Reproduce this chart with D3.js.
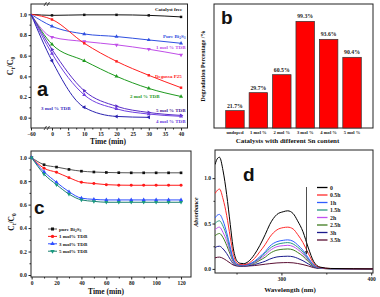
<!DOCTYPE html>
<html>
<head>
<meta charset="utf-8">
<script src="https://cdn.jsdelivr.net/npm/d3@7"></script>
<style>
  body { margin: 0; background: #fff; }
  text { font-family: "Liberation Serif", serif; font-weight: bold; }
</style>
</head>
<body>
<svg id="fig" width="380" height="297"></svg>
<script>
// ---- panel a : Ct/C0 vs time ----
var aTime = [-60, 0, 10, 20, 30, 40];
var aFree = [1.0, 0.99, 0.995, 0.995, 0.99, 0.975];
var aPure = [1.0, 0.885, 0.81, 0.785, 0.752, 0.72];
var aMol1 = [1.0, 0.78, 0.737, 0.705, 0.662, 0.608];
var aP25  = [1.0, 0.95, 0.72, 0.545, 0.41, 0.29];
var aMol2 = [1.0, 0.71, 0.55, 0.40, 0.283, 0.205];
var aMol5 = [1.0, 0.66, 0.26, 0.11, 0.05, 0.022];
var aMol4 = [1.0, 0.62, 0.22, 0.085, 0.035, 0.013];
var aMol3 = [1.0, 0.55, 0.10, 0.012, 0.003];

// ---- panel b : degradation percentage ----
var bCats = ["undoped", "1 mol %", "2 mol %", "3 mol %", "4 mol %", "5 mol %"];
var bLabels = ["21.7%", "29.7%", "60.5%", "99.3%", "93.6%", "90.4%"];
var bHeights = [0.14, 0.285, 0.43, 0.86, 0.715, 0.57]; // bar height as read, fraction of frame

// ---- panel c : adsorption in dark ----
var cTime = [0, 10, 20, 30, 40, 50, 60, 70, 80, 90, 100, 110, 120];
var cPure = [1.0, 0.94, 0.92, 0.90, 0.885, 0.878, 0.874, 0.872, 0.871, 0.871, 0.871, 0.871, 0.871];
var cMol1 = [1.0, 0.91, 0.875, 0.83, 0.79, 0.78, 0.77, 0.766, 0.765, 0.765, 0.765, 0.765, 0.765];
var cMol3 = [1.0, 0.88, 0.79, 0.71, 0.655, 0.645, 0.64, 0.64, 0.64, 0.64, 0.64, 0.64, 0.64];
var cMol5 = [1.0, 0.86, 0.77, 0.69, 0.64, 0.628, 0.62, 0.62, 0.62, 0.62, 0.62, 0.62, 0.62];

// ---- panel d : absorption spectra ----
var dWave = [226, 229, 231, 235, 239, 243, 246, 250, 254, 258, 263, 270, 276, 282, 287, 295, 302, 307, 313, 318, 324, 330, 336, 343, 355, 380, 402];
var dNames = ["0", "0.5h", "1h", "1.5h", "2h", "2.5h", "3h", "3.5h"];
var dAbs = [
  [1.15, 1.22, 1.23, 1.08, 0.82, 0.49, 0.25, 0.095, 0.062, 0.058, 0.08, 0.16, 0.26, 0.38, 0.49, 0.60, 0.63, 0.64, 0.61, 0.53, 0.41, 0.23, 0.08, 0.02, 0.005, 0.002, 0.0],
  [0.83, 0.87, 0.88, 0.77, 0.59, 0.35, 0.18, 0.07, 0.048, 0.045, 0.06, 0.115, 0.19, 0.27, 0.35, 0.43, 0.455, 0.46, 0.44, 0.38, 0.29, 0.17, 0.06, 0.015, 0.004, 0.001, 0.0],
  [0.56, 0.595, 0.60, 0.53, 0.40, 0.24, 0.12, 0.055, 0.042, 0.04, 0.05, 0.085, 0.135, 0.19, 0.25, 0.30, 0.315, 0.32, 0.305, 0.265, 0.205, 0.12, 0.045, 0.012, 0.003, 0.001, 0.0],
  [0.50, 0.525, 0.53, 0.47, 0.36, 0.21, 0.11, 0.05, 0.04, 0.038, 0.048, 0.078, 0.12, 0.175, 0.225, 0.27, 0.285, 0.29, 0.275, 0.24, 0.185, 0.105, 0.04, 0.01, 0.003, 0.001, 0.0],
  [0.43, 0.455, 0.46, 0.40, 0.31, 0.185, 0.095, 0.045, 0.038, 0.036, 0.045, 0.07, 0.11, 0.155, 0.20, 0.245, 0.256, 0.26, 0.247, 0.215, 0.165, 0.095, 0.035, 0.01, 0.003, 0.001, 0.0],
  [0.365, 0.385, 0.39, 0.345, 0.26, 0.16, 0.085, 0.042, 0.036, 0.035, 0.042, 0.062, 0.095, 0.13, 0.17, 0.207, 0.217, 0.22, 0.21, 0.182, 0.14, 0.08, 0.03, 0.008, 0.002, 0.001, 0.0],
  [0.235, 0.248, 0.25, 0.22, 0.17, 0.105, 0.06, 0.036, 0.032, 0.031, 0.035, 0.048, 0.065, 0.085, 0.108, 0.132, 0.138, 0.14, 0.134, 0.117, 0.09, 0.055, 0.022, 0.007, 0.002, 0.001, 0.0],
  [0.122, 0.129, 0.13, 0.116, 0.092, 0.064, 0.045, 0.033, 0.03, 0.03, 0.032, 0.037, 0.044, 0.052, 0.058, 0.066, 0.069, 0.07, 0.067, 0.06, 0.048, 0.032, 0.014, 0.005, 0.002, 0.001, 0.0]
];
var dColors = ["#000000", "#ff2a2a", "#2f5cff", "#2a9a80", "#c050f0", "#3f7a1e", "#1a1a8c", "#5a0f33"];

var svg = d3.select("#fig");

function frame(x0, y0, x1, y1) {
  svg.append("rect").attr("x", x0).attr("y", y0).attr("width", x1 - x0).attr("height", y1 - y0)
    .attr("fill", "none").attr("stroke", "#222").attr("stroke-width", 1);
}
function styleAxis(g, fs) {
  g.select(".domain").remove();
  g.selectAll("line").attr("stroke", "#222");
  g.selectAll("text").attr("font-size", fs).attr("fill", "#222")
    .style("font-family", "'Liberation Serif', serif").style("font-weight", "bold");
}
function marker(g, type, rot, size, color, pts) {
  g.selectAll(null).data(pts).enter().append("path")
    .attr("d", d3.symbol().type(type).size(size))
    .attr("transform", d => "translate(" + d[0] + "," + d[1] + ") rotate(" + rot + ")")
    .attr("fill", color);
}
function label(x, y, txt, fs, color, anchor) {
  return svg.append("text").attr("x", x).attr("y", y).attr("font-size", fs)
    .attr("fill", color || "#222").attr("text-anchor", anchor || "start").text(txt);
}

// ================= panel a =================
var xa = d3.scaleLinear().domain([-60, 0, 42]).range([31, 52, 187.5]);
var ya = d3.scaleLinear().domain([-0.1, 1.1]).range([128, 4]);
frame(31, 4, 187.5, 128);
svg.append("g").attr("transform", "translate(0,128)")
  .call(d3.axisBottom(xa).tickValues([-60, 0, 5, 10, 15, 20, 25, 30, 35, 40]).tickSize(2.5).tickPadding(1.5))
  .call(g => styleAxis(g, 5.5));
svg.append("g").attr("transform", "translate(0,128)")
  .call(d3.axisBottom(xa).tickValues([2.5, 7.5, 12.5, 17.5, 22.5, 27.5, 32.5, 37.5]).tickSize(1.5).tickFormat(""))
  .call(g => styleAxis(g, 5));
svg.append("g").attr("transform", "translate(31,0)")
  .call(d3.axisLeft(ya).tickValues([0, 0.2, 0.4, 0.6, 0.8, 1.0]).tickSize(2.5).tickPadding(1.5).tickFormat(d3.format(".1f")))
  .call(g => styleAxis(g, 5.8));
svg.append("g").attr("transform", "translate(31,0)")
  .call(d3.axisLeft(ya).tickValues([0.1, 0.3, 0.5, 0.7, 0.9]).tickSize(1.5).tickFormat(""))
  .call(g => styleAxis(g, 5));
// axis break marks
[4, 128].forEach(function (yy) {
  [44, 47].forEach(function (xx) {
    svg.append("line").attr("x1", xx).attr("y1", yy + 2).attr("x2", xx + 2.5).attr("y2", yy - 2)
      .attr("stroke", "#222").attr("stroke-width", 0.8);
  });
});
var aSeries = [
  { v: aFree, c: "#111111", sym: d3.symbolSquare, r: 0, s: 6 },
  { v: aPure, c: "#2f4fe0", sym: d3.symbolTriangle, r: 0, s: 7 },
  { v: aMol1, c: "#c04ee8", sym: d3.symbolTriangle, r: 180, s: 7 },
  { v: aP25, c: "#ff2020", sym: d3.symbolSquare, r: 0, s: 6 },
  { v: aMol2, c: "#1f9a1f", sym: d3.symbolTriangle, r: 0, s: 7 },
  { v: aMol5, c: "#5a2dc8", sym: d3.symbolTriangle, r: 90, s: 7 },
  { v: aMol4, c: "#7040e0", sym: d3.symbolTriangle, r: 0, s: 7 },
  { v: aMol3, c: "#2a22b0", sym: d3.symbolTriangle, r: -90, s: 7 }
];
var lineA = d3.line().curve(d3.curveMonotoneX);
aSeries.forEach(function (s) {
  var pts = s.v.map((d, i) => [xa(aTime[i]), ya(d)]);
  svg.append("path").attr("d", lineA(pts)).attr("fill", "none").attr("stroke", s.c).attr("stroke-width", 1);
  marker(svg, s.sym, s.r, s.s, s.c, pts.slice(1));
});
label(155, 10.5, "Catalyst free", 5, "#111");
var tPure = label(163, 37.5, "Pure Bi", 5, "#2f4fe0");
tPure.append("tspan").attr("font-size", 3.6).attr("dy", 1.3).text("2");
tPure.append("tspan").attr("font-size", 5).attr("dy", -1.3).text("S");
tPure.append("tspan").attr("font-size", 3.6).attr("dy", 1.3).text("3");
label(156, 49, "1 mol % TDB", 5, "#c04ee8");
label(155, 77.5, "Degussa P25", 5, "#ff2020");
label(130, 97.5, "2 mol % TDB", 5, "#1f9a1f");
label(41, 109.5, "3 mol % TDB", 5, "#3a30c0");
label(156, 111.5, "5 mol % TDB", 5, "#4a2090");
label(156, 122.5, "4 mol % TDB", 5, "#6a40e0");
label(37, 96, "a", 20, "#111").style("font-family", "'Liberation Sans', Arial, sans-serif");
var tya = svg.append("text").attr("transform", "translate(13,66) rotate(-90)").attr("text-anchor", "middle")
  .attr("font-size", 8).attr("fill", "#111").text("C");
tya.append("tspan").attr("font-size", 5.5).attr("dy", 2).text("t");
tya.append("tspan").attr("font-size", 8).attr("dy", -2).text("/C");
tya.append("tspan").attr("font-size", 5.5).attr("dy", 2).text("0");
label(108, 144, "Time (min)", 7.5, "#111", "middle");

// ================= panel b =================
var xb = d3.scaleBand().domain(bCats).range([214, 373]).paddingInner(0.21).paddingOuter(0.5);
var yb = d3.scaleLinear().domain([0, 1]).range([128, 4]);
frame(214, 4, 373, 128);
svg.selectAll(".bar").data(bCats).enter().append("rect")
  .attr("x", d => xb(d)).attr("width", xb.bandwidth())
  .attr("y", (d, i) => yb(bHeights[i])).attr("height", (d, i) => yb(0) - yb(bHeights[i]))
  .attr("fill", "#ff0000").attr("stroke", "#333").attr("stroke-width", 0.7);
bCats.forEach(function (c, i) {
  label(xb(c) + xb.bandwidth() / 2, yb(bHeights[i]) - 3, bLabels[i], 5.8, "#222", "middle");
  label(xb(c) + xb.bandwidth() / 2, 133.5, c, 4.6, "#222", "middle");
});
label(287.5, 142.5, "Catalysts with different Sn content", 7, "#111", "middle");
svg.append("text").attr("transform", "translate(205,66) rotate(-90)").attr("text-anchor", "middle")
  .attr("font-size", 6).attr("fill", "#111").text("Degradation Percentage /%");
label(221, 24, "b", 19, "#111").style("font-family", "'Liberation Sans', Arial, sans-serif");

// ================= panel c =================
var xc = d3.scaleLinear().domain([-0.5, 128]).range([31, 191]);
var yc = d3.scaleLinear().domain([-0.017, 1.057]).range([277, 151]);
frame(31, 151, 191, 277);
svg.append("g").attr("transform", "translate(0,277)")
  .call(d3.axisBottom(xc).tickValues([0, 20, 40, 60, 80, 100, 120]).tickSize(2.5).tickPadding(1.5))
  .call(g => styleAxis(g, 5.5));
svg.append("g").attr("transform", "translate(0,277)")
  .call(d3.axisBottom(xc).tickValues([10, 30, 50, 70, 90, 110]).tickSize(1.5).tickFormat(""))
  .call(g => styleAxis(g, 5));
svg.append("g").attr("transform", "translate(31,0)")
  .call(d3.axisLeft(yc).tickValues([0, 0.2, 0.4, 0.6, 0.8, 1.0]).tickSize(2.5).tickPadding(1.5).tickFormat(d3.format(".1f")))
  .call(g => styleAxis(g, 5.8));
svg.append("g").attr("transform", "translate(31,0)")
  .call(d3.axisLeft(yc).tickValues([0.1, 0.3, 0.5, 0.7, 0.9]).tickSize(1.5).tickFormat(""))
  .call(g => styleAxis(g, 5));
var cSeries = [
  { v: cPure, c: "#111111", lc: "#555", sym: d3.symbolSquare, r: 0, name: "pure Bi" },
  { v: cMol1, c: "#ff1a1a", lc: "#ff1a1a", sym: d3.symbolCircle, r: 0, name: "1 mol% TDB" },
  { v: cMol3, c: "#2f4fff", lc: "#2f4fff", sym: d3.symbolTriangle, r: 0, name: "3 mol% TDB" },
  { v: cMol5, c: "#1a9a80", lc: "#1a8070", sym: d3.symbolTriangle, r: 180, name: "5 mol% TDB" }
];
var lineC = d3.line().curve(d3.curveMonotoneX);
cSeries.forEach(function (s, k) {
  var pts = s.v.map((d, i) => [xc(cTime[i]), yc(d)]);
  svg.append("path").attr("d", lineC(pts)).attr("fill", "none").attr("stroke", s.lc).attr("stroke-width", 1);
  marker(svg, s.sym, s.r, 7, s.c, pts);
  var ly = 229 + k * 7.4;
  svg.append("line").attr("x1", 48).attr("x2", 57).attr("y1", ly).attr("y2", ly).attr("stroke", s.lc).attr("stroke-width", 1);
  marker(svg, s.sym, s.r, 9, s.c, [[52.5, ly]]);
  var t = label(59, ly + 2, s.name, 5, "#222");
  if (k === 0) {
    t.append("tspan").attr("font-size", 3.6).attr("dy", 1.2).text("2");
    t.append("tspan").attr("font-size", 5).attr("dy", -1.2).text("S");
    t.append("tspan").attr("font-size", 3.6).attr("dy", 1.2).text("3");
  }
});
label(34, 214, "c", 19, "#111").style("font-family", "'Liberation Sans', Arial, sans-serif");
var tyc = svg.append("text").attr("transform", "translate(14,222) rotate(-90)").attr("text-anchor", "middle")
  .attr("font-size", 7.5).attr("fill", "#111").text("C");
tyc.append("tspan").attr("font-size", 5.2).attr("dy", 2).text("t");
tyc.append("tspan").attr("font-size", 7.5).attr("dy", -2).text("/C");
tyc.append("tspan").attr("font-size", 5.2).attr("dy", 2).text("0");
label(106, 293.5, "Time (min)", 7.5, "#111", "middle");

// ================= panel d =================
var xd = d3.scaleLinear().domain([226, 402]).range([215, 373]);
var yd = d3.scaleLinear().domain([-0.045, 1.31]).range([273, 150]);
frame(215, 150, 373, 273);
svg.append("g").attr("transform", "translate(0,273)")
  .call(d3.axisBottom(xd).tickValues([300, 400]).tickSize(2.5).tickPadding(1.5))
  .call(g => styleAxis(g, 5.5));
svg.append("g").attr("transform", "translate(0,273)")
  .call(d3.axisBottom(xd).tickValues([250, 350]).tickSize(1.5).tickFormat(""))
  .call(g => styleAxis(g, 5));
svg.append("g").attr("transform", "translate(215,0)")
  .call(d3.axisLeft(yd).tickValues([0, 0.5, 1.0]).tickSize(2.5).tickPadding(1.5).tickFormat(d3.format(".1f")))
  .call(g => styleAxis(g, 5.5));
svg.append("g").attr("transform", "translate(215,0)")
  .call(d3.axisLeft(yd).tickValues([0.25, 0.75]).tickSize(1.5).tickFormat(""))
  .call(g => styleAxis(g, 5));
svg.append("clipPath").attr("id", "clipd").append("rect")
  .attr("x", 215).attr("y", 150).attr("width", 158).attr("height", 123);
var lineD = d3.line().x((d, i) => xd(dWave[i])).y(d => yd(d)).curve(d3.curveMonotoneX);
var gd = svg.append("g").attr("clip-path", "url(#clipd)");
dAbs.slice().reverse().forEach(function (arr, j) {
  var k = dAbs.length - 1 - j;
  gd.append("path").attr("d", lineD(arr)).attr("fill", "none").attr("stroke", dColors[k]).attr("stroke-width", 1);
});
dNames.forEach(function (n, k) {
  var ly = 187.5 + k * 7.5;
  svg.append("line").attr("x1", 317).attr("x2", 327.5).attr("y1", ly).attr("y2", ly)
    .attr("stroke", dColors[k]).attr("stroke-width", 1.3);
  label(330, ly + 2, n, 5.8, "#222");
});
// arrow
svg.append("defs").append("marker").attr("id", "arr").attr("viewBox", "0 0 6 6").attr("refX", 5).attr("refY", 3)
  .attr("markerWidth", 4).attr("markerHeight", 4).attr("orient", "auto")
  .append("path").attr("d", "M0,0L6,3L0,6Z").attr("fill", "#222");
svg.append("line").attr("x1", 306.5).attr("x2", 306.5).attr("y1", 187).attr("y2", 254)
  .attr("stroke", "#222").attr("stroke-width", 0.8).attr("marker-end", "url(#arr)");
label(243, 181, "d", 19, "#111").style("font-family", "'Liberation Sans', Arial, sans-serif");
svg.append("text").attr("transform", "translate(198,212) rotate(-90)").attr("text-anchor", "middle")
  .attr("font-size", 6).attr("font-style", "italic").attr("fill", "#111").text("Absorbance");
label(290, 292, "Wavelength (nm)", 7, "#111", "middle");
</script>
</body>
</html>
